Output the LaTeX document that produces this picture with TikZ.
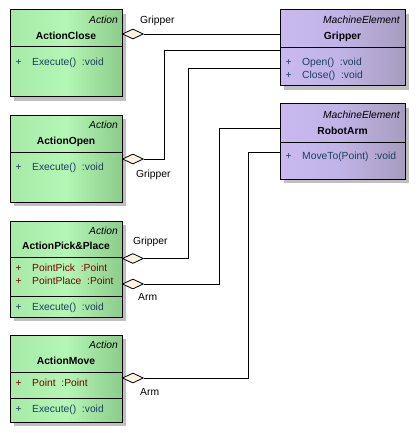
\documentclass[tikz,border=0pt]{standalone}
\usepackage{fontspec}
\setmainfont{Liberation Sans}
\usetikzlibrary{shapes.geometric,shadows}
\definecolor{gL}{HTML}{A6EAA6}
\definecolor{gM}{HTML}{B4F6B4}
\definecolor{gR}{HTML}{8CCC8C}
\definecolor{pL}{HTML}{C9B9F0}
\definecolor{pM}{HTML}{C0B3E5}
\definecolor{pR}{HTML}{A69CBF}
\definecolor{cream}{HTML}{FDF3E4}
\definecolor{optxt}{HTML}{1A4060}
\definecolor{attxt}{HTML}{800000}
\tikzset{
  cls/.style={draw=black, line width=1pt, anchor=north west, inner sep=0pt, outer sep=0pt,
    drop shadow={shadow xshift=4pt, shadow yshift=-4pt, fill=black!25, opacity=1}},
  greencls/.style={cls, left color=gL, right color=gR, middle color=gM},
  purplecls/.style={cls, left color=pL, right color=pR, middle color=pM},
  divider/.style={line width=1pt, draw=black},
  txt/.style={inner sep=0pt, text height=7.4pt, text depth=0pt, font=\fontsize{10.3}{12}\selectfont},
  stereo/.style={txt, anchor=east, font=\fontsize{10.3}{12}\selectfont\itshape},
  clsname/.style={txt, anchor=center, font=\fontsize{10.3}{12}\selectfont\bfseries},
  optext/.style={txt, anchor=west, text=optxt},
  attext/.style={txt, anchor=west, text=attxt},
  rolelabel/.style={txt, anchor=west, text=black},
  diam/.style={diamond, draw=black, fill=cream, line width=0.8pt, inner sep=0pt,
    minimum width=21pt, minimum height=10pt, anchor=west},
  conn/.style={draw=black, line width=0.8pt}
}
\begin{document}
\begin{tikzpicture}[x=1pt,y=-1pt]
\useasboundingbox (0,0) rectangle (416,433);

% ---------- ActionClose ----------
\node[greencls, minimum width=112pt, minimum height=87pt] (close) at (10,10) {};
\draw[divider] (10,47) -- (122,47);
\node[stereo] (closeS) at (118,20) {Action};
\node[clsname] (closeN) at (66,36) {ActionClose};
\node[optext] (closeP) at (15.5,62) {+};
\node[optext] (closeO) at (32,62) {Execute()\ \ :void};

% ---------- ActionOpen ----------
\node[greencls, minimum width=112pt, minimum height=87pt] (open) at (10,115) {};
\draw[divider] (10,152.5) -- (122,152.5);
\node[stereo] (openS) at (118,124.5) {Action};
\node[clsname] (openN) at (66,141) {ActionOpen};
\node[optext] (openP) at (15.5,167) {+};
\node[optext] (openO) at (32,167) {Execute()\ \ :void};

% ---------- ActionPick&Place ----------
\node[greencls, minimum width=112pt, minimum height=96pt] (pick) at (10,221) {};
\draw[divider] (10,257.5) -- (122,257.5);
\draw[divider] (10,296.5) -- (122,296.5);
\node[stereo] (pickS) at (118,230.5) {Action};
\node[clsname] (pickN) at (66,246) {ActionPick\&Place};
\node[attext] (pickP1) at (15.5,268) {+};
\node[attext] (pickA1) at (32,268) {PointPick\ \ :Point};
\node[attext] (pickP2) at (15.5,281) {+};
\node[attext] (pickA2) at (32,281) {PointPlace\ \ :Point};
\node[optext] (pickP3) at (15.5,307) {+};
\node[optext] (pickO) at (32,307) {Execute()\ \ :void};

% ---------- ActionMove ----------
\node[greencls, minimum width=112pt, minimum height=87pt] (move) at (10,335) {};
\draw[divider] (10,372.5) -- (122,372.5);
\draw[divider] (10,398.5) -- (122,398.5);
\node[stereo] (moveS) at (118,344.5) {Action};
\node[clsname] (moveN) at (66,361) {ActionMove};
\node[attext] (moveP1) at (15.5,382.5) {+};
\node[attext] (moveA) at (32,382.5) {Point\ \ :Point};
\node[optext] (moveP2) at (15.5,409) {+};
\node[optext] (moveO) at (32,409) {Execute()\ \ :void};

% ---------- Gripper ----------
\node[purplecls, minimum width=125pt, minimum height=76pt] (grip) at (280,10) {};
\draw[divider] (280,47.5) -- (405,47.5);
\node[stereo] (gripS) at (400,20) {MachineElement};
\node[clsname] (gripN) at (342.5,36) {Gripper};
\node[optext] (gripP1) at (285.5,62) {+};
\node[optext] (gripO1) at (302,62) {Open()\ \ :void};
\node[optext] (gripP2) at (285.5,74.5) {+};
\node[optext] (gripO2) at (302,74.5) {Close()\ \ :void};

% ---------- RobotArm ----------
\node[purplecls, minimum width=125pt, minimum height=75pt] (arm) at (280,104) {};
\draw[divider] (280,142) -- (405,142);
\node[stereo] (armS) at (400,115) {MachineElement};
\node[clsname] (armN) at (342.5,130.5) {RobotArm};
\node[optext] (armP) at (285.5,155.5) {+};
\node[optext] (armO) at (302,155.5) {MoveTo(Point)\ \ :void};

% ---------- connector end points on the right-hand classes ----------
\coordinate (gA) at (280,34);
\coordinate (gB) at (280,50.5);
\coordinate (gC) at (280,68);
\coordinate (rA) at (280,128);
\coordinate (rB) at (280,152.5);

% ---------- aggregation diamonds ----------
\node[diam] (d1) at (122,34) {};
\node[diam] (d2) at (122,159) {};
\node[diam] (d3) at (122,258.5) {};
\node[diam] (d4) at (122,284) {};
\node[diam] (d5) at (122,378) {};

% ---------- connectors ----------
\draw[conn] (d1.east) -- (gA);
\draw[conn] (d2.east) -- ++(20.5,0) |- (gB);
\draw[conn] (d3.east) -- ++(44.5,0) |- (gC);
\draw[conn] (d4.east) -- ++(76,0) |- (rA);
\draw[conn] (d5.east) -- ++(104.5,0) |- (rB);

% ---------- role labels ----------
\node[rolelabel] (l1) at (140,20) {Gripper};
\node[rolelabel] (l2) at (136,173.5) {Gripper};
\node[rolelabel] (l3) at (133,241) {Gripper};
\node[rolelabel] (l4) at (138,297) {Arm};
\node[rolelabel] (l5) at (140,392) {Arm};
\end{tikzpicture}
\end{document}
